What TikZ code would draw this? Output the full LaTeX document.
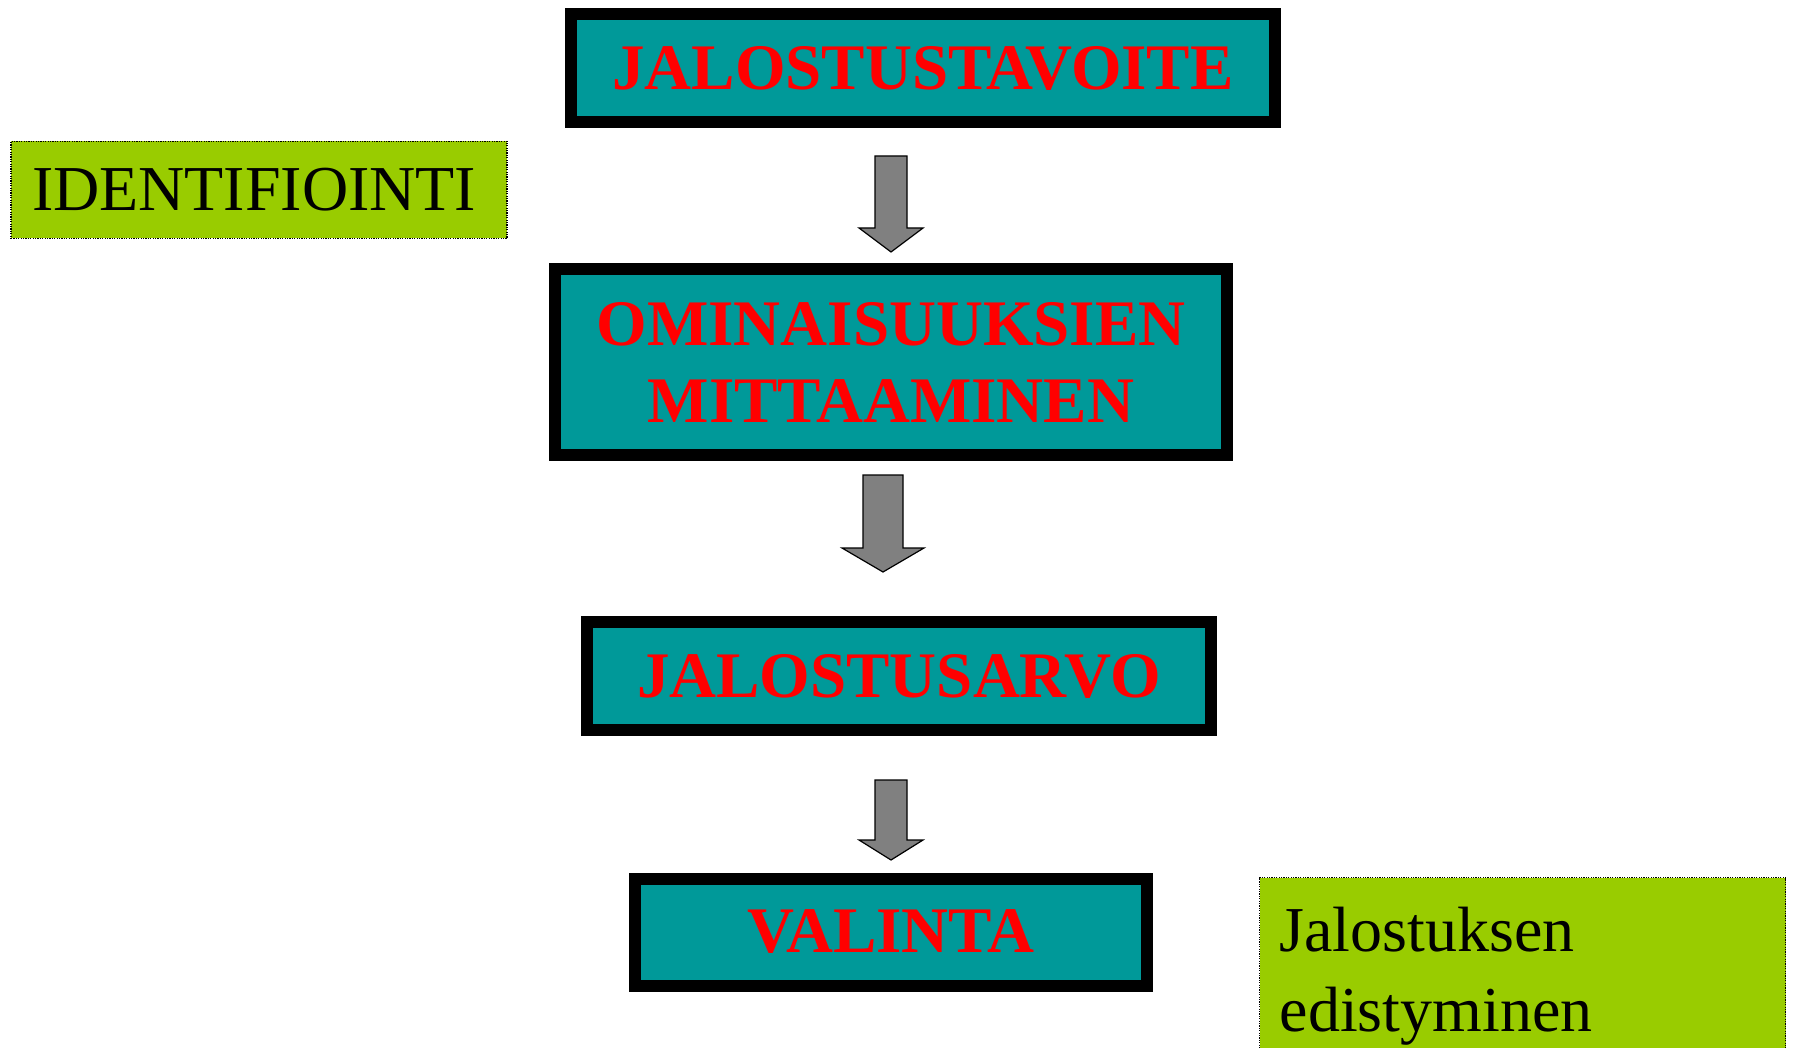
\documentclass[tikz,border=0pt]{standalone}
\usepackage{fontspec}
\setmainfont{Liberation Serif}
\definecolor{boxteal}{HTML}{009999}
\definecolor{notegreen}{HTML}{99CC00}
\definecolor{arrowgrey}{HTML}{808080}
\tikzset{
	stage/.style={draw=black, line width=12pt, fill=boxteal, text=red,
		font=\fontsize{65}{77}\selectfont\bfseries, align=center, inner sep=0pt},
	note/.style={draw=black, line width=1.2pt, dash pattern=on 1.2pt off 1.2pt,
		fill=notegreen, align=left, inner ysep=0pt},
	blockarrow/.style={draw=black, line width=1.2pt, fill=arrowgrey, line join=miter}
}
\begin{document}
\begin{tikzpicture}[x=1pt,y=-1pt]
		\useasboundingbox (0,0) rectangle (1793,1048);
		\node[stage, minimum width=704pt, minimum height=108pt] (tavoite) at (923,68) {JALOSTUSTAVOITE};
		\node[stage, minimum width=672pt, minimum height=185pt] (mittaus) at (891,362) {OMINAISUUKSIEN\\MITTAAMINEN};
		\node[stage, minimum width=624pt, minimum height=108pt] (arvo) at (899,676) {JALOSTUSARVO};
		\node[stage, minimum width=512pt, minimum height=107pt] (valinta) at (891,932) {VALINTA};
		\node[note, font=\fontsize{64}{80}\selectfont, text width=454pt, inner xsep=21pt, minimum height=97pt] (ident) at (259,190) {IDENTIFIOINTI};
		\node[note, font=\fontsize{64}{80}\selectfont, text width=486pt, inner xsep=20pt, minimum height=197pt, anchor=north west] (edistys) at (1259,877) {Jalostuksen\\edistyminen};
		\coordinate (a1) at (891,156);
		\coordinate (a2) at (883,475);
		\coordinate (a3) at (891,780);
		\draw[blockarrow] (a1) ++(-16,0) -- ++(32,0) -- ++(0,72) -- ++(16,0) -- ++(-32,24) -- ++(-32,-24) -- ++(16,0) -- cycle;
		\draw[blockarrow] (a2) ++(-20,0) -- ++(40,0) -- ++(0,73) -- ++(21,0) -- ++(-41,24) -- ++(-41,-24) -- ++(21,0) -- cycle;
		\draw[blockarrow] (a3) ++(-16,0) -- ++(32,0) -- ++(0,60) -- ++(16,0) -- ++(-32,20) -- ++(-32,-20) -- ++(16,0) -- cycle;
\end{tikzpicture}
\end{document}
